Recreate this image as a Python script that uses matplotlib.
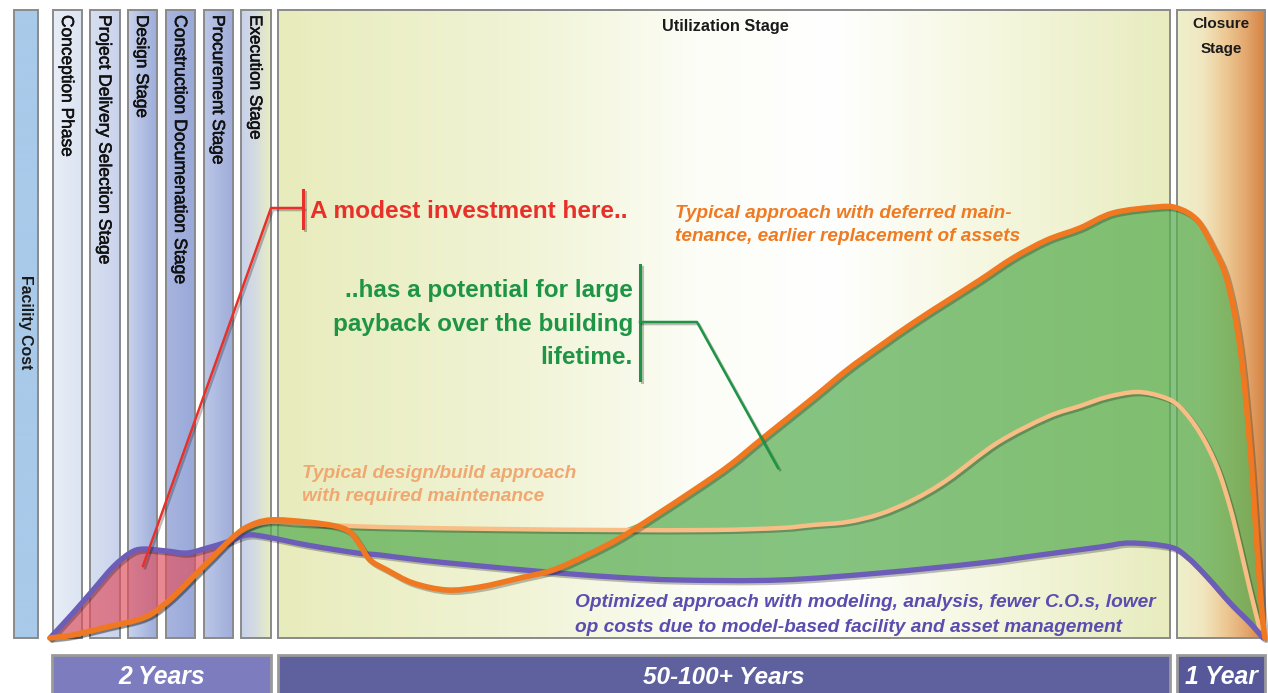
import numpy as np
import matplotlib
matplotlib.use("Agg")
import matplotlib.pyplot as plt
from matplotlib.colors import LinearSegmentedColormap
from matplotlib.patches import Rectangle, PathPatch
from matplotlib.path import Path
from matplotlib import patheffects as pe
from matplotlib import font_manager

# ---- data (cost = height above the time axis, x = position along the life cycle) ----
stage_names = ["Conception Phase", "Project Delivery Selection Stage", "Design Stage",
               "Construction Documenation Stage", "Procurement Stage", "Execution Stage"]
period_labels = ["2 Years", "50-100+ Years", "1 Year"]

deferred_x = [50, 73, 107, 137, 153, 173, 193, 213, 230, 247, 270, 307, 335, 350, 360, 370,
              387, 413, 447, 480, 520, 553, 587, 620, 653, 697, 730, 763, 813, 847, 880,
              913, 947, 980, 1013, 1047, 1080, 1113, 1157, 1177, 1197, 1213, 1227, 1240,
              1250, 1257, 1262, 1265]
deferred_cost = [0, 3, 11, 18, 25, 41, 61, 81, 98, 111, 118, 116, 112, 106, 93, 78,
                 68, 55, 48, 51, 60, 68, 83, 100, 121, 150, 173, 200, 240, 268, 292,
                 315, 337, 358, 380, 398, 410, 425, 431, 430, 418, 391, 358, 291,
                 191, 91, 25, 0]

required_x = [50, 73, 107, 137, 153, 173, 193, 213, 230, 247, 270, 307, 380, 500, 613, 713,
              780, 813, 847, 880, 913, 947, 997, 1047, 1080, 1107, 1137, 1163, 1180, 1200,
              1217, 1230, 1240, 1250, 1260]
required_cost = [0, 3, 11, 18, 25, 41, 61, 81, 98, 110, 116, 114, 111, 109, 108, 108,
                 110, 113, 116, 124, 138, 158, 195, 221, 232, 241, 246, 241, 231, 205,
                 171, 131, 91, 48, 8]

optimized_x = [50, 73, 93, 113, 130, 143, 167, 187, 207, 227, 247, 267, 307, 357, 380, 420,
               470, 547, 613, 680, 780, 880, 980, 1040, 1100, 1130, 1170, 1187, 1207, 1230,
               1250, 1263]
optimized_cost = [0, 25, 48, 71, 85, 89, 87, 85, 90, 96, 103, 101, 93, 85, 83, 78,
                  73, 66, 61, 58, 58, 65, 75, 83, 91, 95, 91, 81, 61, 35,
                  15, 0]

# ---- layout ----
TOP, BASE = 628, 0
col_left = [53, 90, 128, 166, 204, 241]
col_right = [82, 120, 157, 195, 233, 271]
col_colors = [["#E8EEF7", "#DCE4F2"], ["#D7DFF1", "#C9D3EC"], ["#C9D2EC", "#9CADDB"],
              ["#A8B5DF", "#98A8D8"], ["#BCC7E7", "#9EADDA"], ["#C8D2EC", "#D5DCDF", "#EAEEC2"]]
label_len = [142, 250, 103, 270, 150, 125]

names = {f.name for f in font_manager.fontManager.ttflist}
NARROW = "Liberation Sans Narrow" if "Liberation Sans Narrow" in names else "Liberation Sans"
plt.rcParams["font.family"] = ["Liberation Sans", "DejaVu Sans"]

fig = plt.figure(figsize=(12.68, 6.93), dpi=100)
ax = fig.add_axes([0, 0, 1, 1])
ax.set_xlim(0, 1268)
ax.set_ylim(-55, 638)
ax.axis("off")


def panel(x0, x1, y0, y1, colors, edge="#8a8a8a", z=0):
    cmap = LinearSegmentedColormap.from_list("p", colors)
    ax.imshow(np.linspace(0, 1, 256)[None, :], cmap=cmap, extent=[x0, x1, y0, y1],
              aspect="auto", zorder=z, interpolation="bicubic")
    ax.add_patch(Rectangle((x0, y0), x1 - x0, y1 - y0, fill=False, ec=edge, lw=1.4, zorder=2))


def smooth_curve(x, y, **kw):
    # bezier through the read points (Catmull-Rom tangents) so the line is not kinked
    p = np.column_stack([x, y]).astype(float)
    n = len(p)
    verts, codes = [p[0]], [Path.MOVETO]
    for i in range(n - 1):
        a, b = p[max(i - 1, 0)], p[min(i + 2, n - 1)]
        verts += [p[i] + (p[i + 1] - a) / 6, p[i + 1] - (b - p[i]) / 6, p[i + 1]]
        codes += [Path.CURVE4] * 3
    ax.add_patch(PathPatch(Path(verts, codes), fill=False, capstyle="round",
                           joinstyle="round", **kw))


to_fit = []


def label(x, y, s, length, **kw):
    t = ax.text(x, y, s, **kw)
    to_fit.append((t, length))
    return t


# background panels
panel(14, 38, BASE, TOP, ["#A9CAEA", "#A9CAEA"])
label(25, 316, "Facility Cost", 95, rotation=270, ha="center", va="center",
      fontweight="bold", color="#1a1a1a", fontsize=11, zorder=8)
for name, x0, x1, cols, ln in zip(stage_names, col_left, col_right, col_colors, label_len):
    panel(x0, x1, BASE, TOP, cols)
    label((x0 + x1) / 2 - 1, TOP - 5, name, ln, rotation=270, ha="center", va="top",
          color="#111111", fontsize=12, zorder=8,
          path_effects=[pe.withStroke(linewidth=0.4, foreground="#111111")])

panel(278, 1170, BASE, TOP, [(0, "#E8ECBC"), (0.28, "#F1F4D6"), (0.47, "#FCFDF6"),
                             (0.62, "#FFFFFF"), (0.82, "#F4F6DC"), (1, "#E8ECBF")])
panel(1177, 1265, BASE, TOP, [(0, "#EEF0CD"), (0.3, "#F1E6C0"), (0.55, "#EDC994"),
                              (0.8, "#E3A56C"), (1, "#D4823F")])
label(725, 611, "Utilization Stage", 127, ha="center", va="center",
      fontweight="bold", color="#1a1a1a", fontsize=11, zorder=8)
label(1221, 601, "Closure\nStage", 57, ha="center", va="center", multialignment="center",
      fontweight="bold", color="#1a1a1a", fontsize=11, linespacing=2.0, zorder=8)

# bottom duration bars
bar_spans = [(52, 271, "#7C7CBF"), (278, 1170, "#5F619F"), (1177, 1265, "#56589A")]
for (x0, x1, c), s, ln in zip(bar_spans, period_labels, [87, 162, 73]):
    ax.add_patch(Rectangle((x0, -60), x1 - x0, 43, fc=c, ec="#9a9a9a", lw=2, zorder=2))
    label((x0 + x1) / 2, -39, s, ln, ha="center", va="center", color="white",
          fontweight="bold", fontstyle="italic", family=NARROW, fontsize=17, zorder=8)

# ---- curves and fills ----
xs = np.union1d(np.union1d(deferred_x, required_x), optimized_x).astype(float)
d = np.interp(xs, deferred_x, deferred_cost)
r = np.interp(xs, required_x, required_cost)
o = np.interp(xs, optimized_x, optimized_cost)
top = np.maximum(d, r)

ax.fill_between(xs, d, o, where=(o >= d) & (xs < 300), interpolate=True,
                color="#E0505F", alpha=0.68, lw=0, zorder=3)
ax.fill_between(xs, o, top, where=(top >= o) & (xs > 200), interpolate=True,
                color="#5DAF56", alpha=0.75, lw=0, zorder=3)

shadow = [pe.SimpleLineShadow(offset=(1.5, -1.5), alpha=0.25), pe.Normal()]
smooth_curve(required_x, required_cost, ec="#F8BE85", lw=3.2, zorder=4, path_effects=shadow)
smooth_curve(optimized_x, optimized_cost, ec="#6B5DB8", lw=3.8, zorder=5, path_effects=shadow)
smooth_curve(deferred_x, deferred_cost, ec="#F07820", lw=4.0, zorder=6, path_effects=shadow)

# ---- call-outs ----
ax.plot([143, 271, 303], [72, 430, 430], color="#E8302A", lw=1.8, zorder=7,
        path_effects=shadow)
ax.plot([303, 303], [448, 410], color="#E8302A", lw=2.2, zorder=7, path_effects=shadow)
label(310, 427, "A modest investment here..", 318, ha="left", va="center",
      color="#E8302A", fontweight="bold", fontsize=17, zorder=8)

ax.plot([640, 640], [373, 258], color="#1E9445", lw=2.2, zorder=7, path_effects=shadow)
ax.plot([640, 697, 778], [316, 316, 170], color="#1E9445", lw=1.8, zorder=7,
        path_effects=shadow)
label(633, 314, "..has a potential for large\npayback over the building\nlifetime.", 300,
      ha="right", va="center", multialignment="right", linespacing=1.58,
      color="#1E9445", fontweight="bold", fontsize=17, zorder=8)

label(675, 413, "Typical approach with deferred main-\ntenance, earlier replacement of assets", 343,
      ha="left", va="center", linespacing=1.52, color="#F07A22", fontweight="bold",
      fontstyle="italic", family=NARROW, fontsize=13, zorder=8)
label(302, 153, "Typical design/build approach\nwith required maintenance", 274,
      ha="left", va="center", linespacing=1.52, color="#F0A872", fontweight="bold",
      fontstyle="italic", family=NARROW, fontsize=13, zorder=8)
label(575, 23, "Optimized approach with modeling, analysis, fewer C.O.s, lower\n"
      "op costs due to model-based facility and asset management", 580,
      ha="left", va="center", linespacing=1.62, color="#5A4DAF", fontweight="bold",
      fontstyle="italic", family=NARROW, fontsize=13, zorder=8)

# size the texts to the lengths they take in the original
rend = fig.canvas.get_renderer()
for t, ln in to_fit:
    bb = t.get_window_extent(renderer=rend)
    cur = bb.height if t.get_rotation() in (90, 270) else bb.width
    t.set_fontsize(t.get_fontsize() * ln / cur)

ax.set_xlim(0, 1268)
ax.set_ylim(-55, 638)
fig.savefig("out.png", dpi=100)
